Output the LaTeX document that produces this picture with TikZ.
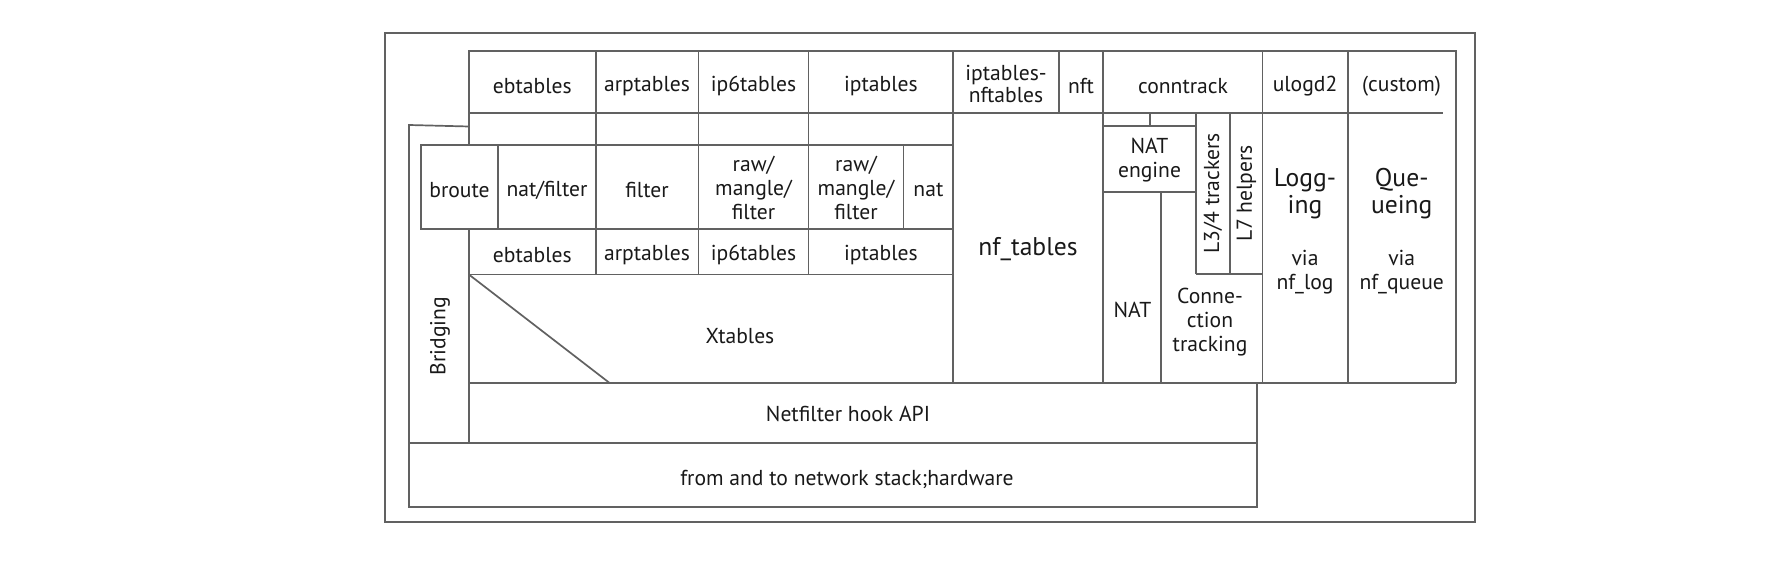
\documentclass[tikz,border=0pt]{standalone}
\usepackage{fontspec}
\setmainfont{PT Sans}
\tikzset{
  ln/.style={draw=black!62, line width=0.85pt},
  txt/.style={font=\fontsize{10.8}{11.8}\selectfont, text=black!90, align=center, inner sep=0pt},
  big/.style={font=\fontsize{12.8}{13.4}\selectfont, text=black!90, align=center, inner sep=0pt},
}
\begin{document}
\begin{tikzpicture}[x=0.5pt,y=-0.5pt]
\useasboundingbox (0,0) rectangle (1772,572);
\fill[white] (0,0) rectangle (1772,572);
% outer frame
\draw[ln] (385,33) rectangle (1475,522);
% top row
\draw[ln] (469,145) -- (469,51) -- (1456,51) -- (1456,383.3);
\draw[ln] (469,113.3) -- (1443,113.3);
\foreach \x in {595.7,698.4,808.6} \draw[ln] (\x,51) -- (\x,145);
\foreach \x in {953.3,1103.3,1262.5,1348} \draw[ln] (\x,51) -- (\x,383.3);
\draw[ln] (1059,51) -- (1059,113.3);
% broute row
\draw[ln] (420.7,145) rectangle (953.3,229.3);
\foreach \x in {498.3,595.7,698.4,808.6,903.5} \draw[ln] (\x,145) -- (\x,229.3);
% ebtables row
\draw[ln] (469,229.3) -- (469,443.3);
\foreach \x in {595.7,698.4,808.6} \draw[ln] (\x,229.3) -- (\x,274.6);
\draw[ln] (469,274.6) -- (953.3,274.6);
% xtables diagonal
\draw[ln] (469,274.6) -- (610,383.3);
% netfilter and network
\draw[ln] (469,383.3) -- (1456,383.3);
\draw[ln] (469,383.3) rectangle (1257,443.3);
\draw[ln] (409,443.3) rectangle (1257,506.7);
% bridging
\draw[ln] (409,443.3) -- (409,125) -- (469,126.5);
% conntrack internals
\draw[ln] (1150,113.3) -- (1150,126);
\draw[ln] (1103.3,126) -- (1196,126);
\draw[ln] (1103.3,192.3) -- (1196,192.3);
\draw[ln] (1196,113.3) -- (1196,274.3);
\draw[ln] (1230.3,113.3) -- (1230.3,274.3);
\draw[ln] (1196,274.3) -- (1262.5,274.3);
\draw[ln] (1161.3,192.3) -- (1161.3,383.3);
% texts: top row
\node[txt] (t1) at (532.3,86) {ebtables};
\node[txt] (t2) at (647,86) {arptables};
\node[txt] (t3) at (753.5,86) {ip6tables};
\node[txt] (t4) at (880.9,86) {iptables};
\node[txt, font=\fontsize{10.8}{10.6}\selectfont] (t5) at (1006,84) {iptables-\\nftables};
\node[txt] (t6) at (1081,86) {nft};
\node[txt] (t7) at (1183,86) {conntrack};
\node[txt] (t8) at (1305,86) {ulogd2};
\node[txt] (t9) at (1401.5,86) {(custom)};
% broute row
\node[txt] (b1) at (459.5,190) {broute};
\node[txt] (b2) at (547,190) {nat/filter};
\node[txt] (b3) at (647,190) {filter};
\node[txt] (b4) at (753.5,188) {raw/\\mangle/\\filter};
\node[txt] (b5) at (856,188) {raw/\\mangle/\\filter};
\node[txt] (b6) at (928.4,190) {nat};
% ebtables row
\node[txt] (e1) at (532.3,255) {ebtables};
\node[txt] (e2) at (647,255) {arptables};
\node[txt] (e3) at (753.5,255) {ip6tables};
\node[txt] (e4) at (880.9,255) {iptables};
\node[txt] (xt) at (740,336) {Xtables};
\node[big] (nft) at (1028,249) {nf\_tables};
\node[txt] (nate) at (1149.5,160) {NAT\\engine};
\node[txt, rotate=90] (l34) at (1213,193.5) {L3/4 trackers};
\node[txt, rotate=90] (l7) at (1246.4,193.5) {L7 helpers};
\node[txt] (nat) at (1132.5,310) {NAT};
\node[txt] (ct) at (1210,322) {Conne-\\ction\\tracking};
\node[big] (log) at (1305,193.5) {Logg-\\ing};
\node[txt] (logv) at (1305,272) {via\\nf\_log};
\node[big] (que) at (1401.7,193.5) {Que-\\ueing};
\node[txt] (quev) at (1401.7,272) {via\\nf\_queue};
\node[txt] (hook) at (848,414) {Netfilter hook API};
\node[txt] (net) at (847,479) {from and to network stack;hardware};
\node[txt, rotate=90] (br) at (440,336) {Bridging};
\end{tikzpicture}
\end{document}
